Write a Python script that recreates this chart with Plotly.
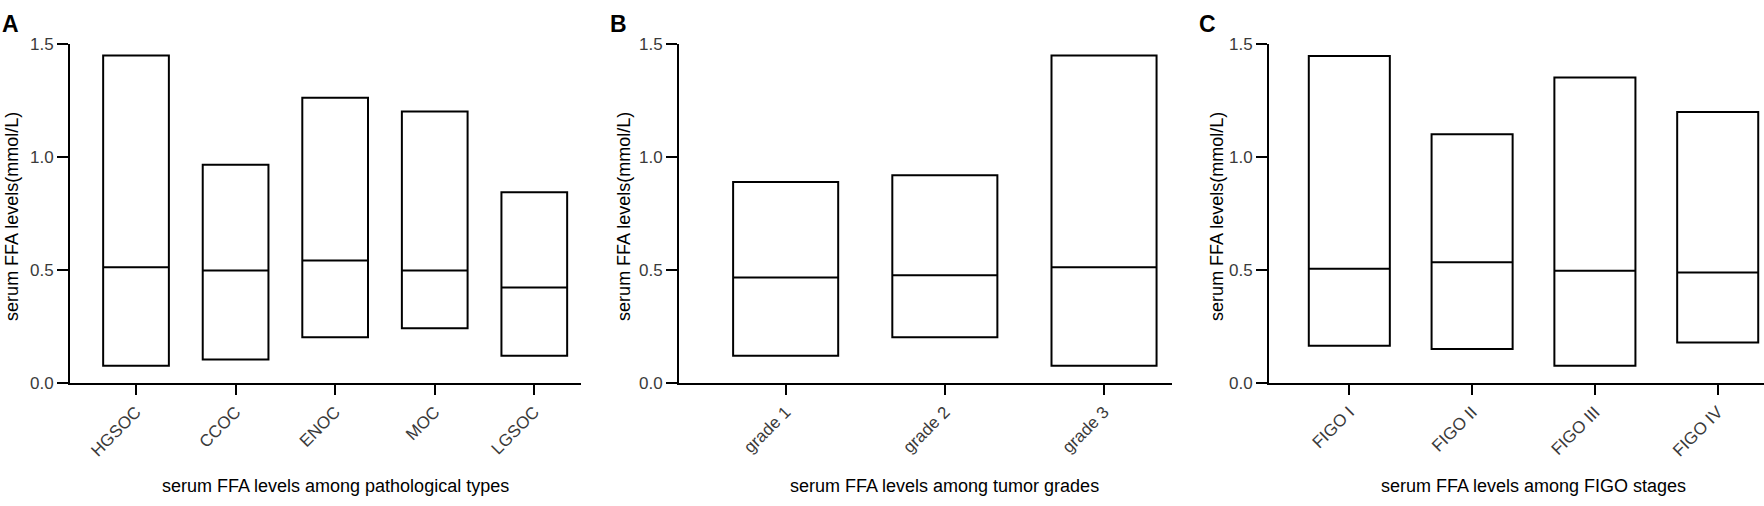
import plotly.graph_objects as go

# values (mmol/L): min, median, max per group
PATH_TYPES = ["HGSOC", "CCOC", "ENOC", "MOC", "LGSOC"]
PATH_MIN = [0.078, 0.106, 0.204, 0.243, 0.122]
PATH_MED = [0.513, 0.498, 0.543, 0.498, 0.423]
PATH_MAX = [1.448, 0.965, 1.261, 1.200, 0.844]

GRADES = ["grade 1", "grade 2", "grade 3"]
GRADE_MIN = [0.122, 0.204, 0.078]
GRADE_MED = [0.468, 0.477, 0.513]
GRADE_MAX = [0.889, 0.919, 1.448]

STAGES = ["FIGO I", "FIGO II", "FIGO III", "FIGO IV"]
STAGE_MIN = [0.166, 0.152, 0.078, 0.181]
STAGE_MED = [0.506, 0.535, 0.497, 0.490]
STAGE_MAX = [1.446, 1.100, 1.350, 1.198]

Y_TICKS = [0, 0.5, 1.0, 1.5]
Y_TICKTEXT = ["0.0", "0.5", "1.0", "1.5"]
Y_TITLE = "serum FFA levels(mmol/L)"
X_TITLES = ["serum FFA levels among pathological types",
            "serum FFA levels among tumor grades",
            "serum FFA levels among FIGO stages"]
LETTERS = ["A", "B", "C"]

W, H = 1764, 506
FONT = "Arial, Liberation Sans, sans-serif"

panels = [
    (PATH_TYPES, PATH_MIN, PATH_MED, PATH_MAX),
    (GRADES, GRADE_MIN, GRADE_MED, GRADE_MAX),
    (STAGES, STAGE_MIN, STAGE_MED, STAGE_MAX),
]
# pixel layout of each panel: axis left/right, x range in category units
X_PIX = [(70, 581), (679, 1172), (1269, 1764)]
X_RANGE = [(-0.663, 4.469), (-0.670, 2.427), (-0.654, 3.377)]
YTITLE_X = [12, 624, 1217]
LETTER_X = [0, 608, 1197]
Y_TOP, Y_BOT = 36, 389

fig = go.Figure()
annos = []
for p, (cats, lo, med, hi) in enumerate(panels):
    ax = "" if p == 0 else str(p + 1)
    fig.add_trace(go.Box(
        x=cats, q1=lo, median=med, q3=hi, lowerfence=lo, upperfence=hi,
        width=0.66, whiskerwidth=0, boxpoints=False,
        fillcolor="white", line=dict(color="black", width=2),
        xaxis="x" + ax, yaxis="y" + ax, showlegend=False))

    axis_common = dict(showline=True, linecolor="black", linewidth=2,
                       ticks="outside", tickcolor="black", tickwidth=2,
                       showgrid=False, zeroline=False,
                       tickfont=dict(family=FONT, size=17, color="#3a3a3a"))
    fig.update_layout({
        "xaxis" + ax: dict(axis_common, domain=[X_PIX[p][0] / W, X_PIX[p][1] / W],
                           range=list(X_RANGE[p]), type="category",
                           ticklen=10, tickangle=-45, anchor="y" + ax),
        "yaxis" + ax: dict(axis_common, domain=[(H - Y_BOT) / H, (H - Y_TOP) / H],
                           range=[0, 1.5], tickvals=Y_TICKS, ticktext=Y_TICKTEXT,
                           ticklen=11, anchor="x" + ax),
    })

    annos.append(dict(text=X_TITLES[p], x=(len(cats) - 1) / 2, xref="x" + ax,
                      y=(H - 496) / H, yref="paper", xanchor="center", yanchor="middle",
                      showarrow=False, font=dict(family=FONT, size=18, color="black")))
    annos.append(dict(text=Y_TITLE, x=YTITLE_X[p] / W, xref="paper",
                      y=(H - 216) / H, yref="paper", textangle=-90,
                      xanchor="center", yanchor="middle", showarrow=False,
                      font=dict(family=FONT, size=18, color="black")))
    annos.append(dict(text="<b>" + LETTERS[p] + "</b>", x=LETTER_X[p] / W, xref="paper",
                      y=(H - 16) / H, yref="paper", xanchor="left", yanchor="middle",
                      showarrow=False, font=dict(family=FONT, size=23, color="black")))

fig.update_layout(width=W, height=H, autosize=False,
                  margin=dict(l=0, r=0, t=0, b=0),
                  paper_bgcolor="white", plot_bgcolor="white",
                  annotations=annos, showlegend=False)

# the browser's default 8px body margin would push the figure off the window
fig.write_html("out.html", config={"displayModeBar": False},
               post_script="document.body.style.margin='0';")
